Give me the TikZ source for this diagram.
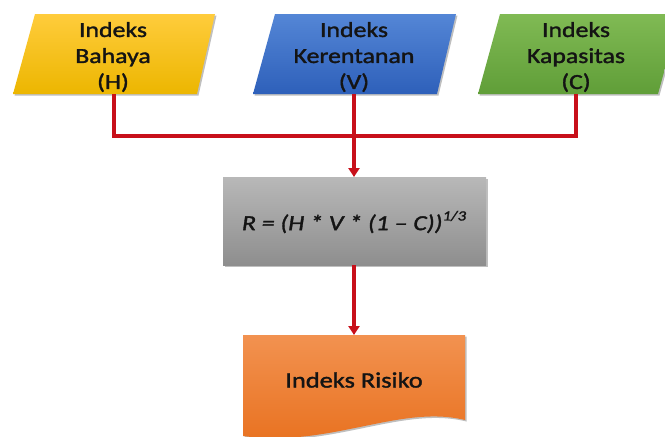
\documentclass[tikz,border=0pt]{standalone}
\usepackage{fontspec}
\setmainfont{Carlito}[FakeStretch=1.2,FakeBold=1.6]
\usetikzlibrary{arrows.meta,shadows}
\definecolor{txt}{HTML}{141414}
\definecolor{lnred}{HTML}{C8101A}
\tikzset{
  shp/.style={draw=none, drop shadow={shadow xshift=1.5pt, shadow yshift=-1.5pt, opacity=0.25, fill=black}},
  lbl/.style={align=center, text=txt, font=\fontsize{21.5}{26}\selectfont, inner sep=0pt},
  conn/.style={draw=lnred, line width=3.2pt},
  arr/.style={conn, -{Triangle[length=9pt,width=11pt]}},
}
\begin{document}
\begin{tikzpicture}[x=1pt,y=-1pt]
\useasboundingbox (0,0) rectangle (665,437);
\begin{scope}
\clip (0,0) rectangle (665,437);
% parallelograms
\shade[shp, top color={rgb,255:red,255;green,204;blue,60}, bottom color={rgb,255:red,236;green,182;blue,0}]
  (35,14) -- (215,14) -- (197,94) -- (13,94) -- cycle;
\shade[shp, top color={rgb,255:red,84;green,134;blue,214}, bottom color={rgb,255:red,46;green,96;blue,186}]
  (275,14) -- (456,14) -- (437,94) -- (253,94) -- cycle;
\shade[shp, top color={rgb,255:red,128;green,186;blue,84}, bottom color={rgb,255:red,96;green,158;blue,56}]
  (500,14) -- (680,14) -- (658,94) -- (478,94) -- cycle;
% formula box
\shade[shp, top color={rgb,255:red,184;green,184;blue,184}, bottom color={rgb,255:red,142;green,142;blue,142}]
  (223,177) rectangle (486,265);
% document shape
\shade[shp, top color={rgb,255:red,242;green,146;blue,80}, bottom color={rgb,255:red,232;green,112;blue,30}]
  (243,335) -- (465,335) -- (465,420) .. controls (400,404) and (330,448) .. (243,436) -- cycle;
\end{scope}
% labels
\node[lbl] (H) at (113,57) {Indeks\\Bahaya\\(H)};
\node[lbl] (V) at (354,57) {Indeks\\Kerentanan\\(V)};
\node[lbl] (C) at (576,57) {Indeks\\Kapasitas\\(C)};
\node[lbl, font=\fontsize{21.5}{24}\selectfont\itshape] (R) at (354,222) {R = (H * V * (1 – C))\raisebox{0.45em}{\fontsize{14}{14}\selectfont 1/3}};
\node[lbl, font=\fontsize{22}{24}\selectfont] (Ri) at (354,380) {Indeks Risiko};
% anchor coordinates
\coordinate (Hb) at (114,94);
\coordinate (Vb) at (354,94);
\coordinate (Cb) at (576,94);
\coordinate (J) at (354,136);
\coordinate (Rt) at (354,177);
\coordinate (Rb) at (354,265);
\coordinate (Ot) at (354,335);
% connectors
\draw[conn, line join=miter] (Hb) |- (J);
\draw[conn, line join=miter] (Cb) |- (J);
\draw[arr] (Vb) -- (Rt);
\draw[arr] (Rb) -- (Ot);
\end{tikzpicture}
\end{document}
